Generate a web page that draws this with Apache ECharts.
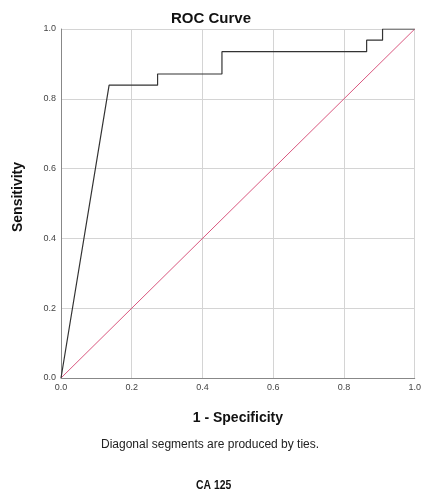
<!DOCTYPE html>
<html>
<head>
<meta charset="utf-8">
<script src="https://cdn.jsdelivr.net/npm/echarts@6/dist/echarts.min.js"></script>
<style>
  html, body { margin: 0; padding: 0; background: #fff; }
  #chart { width: 424px; height: 495px; }
</style>
</head>
<body>
<div id="chart"></div>
<script>
// ROC curve points for CA 125 (1 - specificity, sensitivity)
const rocX = [0, 0.136, 0.273, 0.273, 0.455, 0.455, 0.864, 0.864, 0.909, 0.909, 1];
const rocY = [0, 0.839, 0.839, 0.871, 0.871, 0.935, 0.935, 0.968, 0.968, 1, 1];
// reference line
const refX = [0, 1];
const refY = [0, 1];

const chart = echarts.init(document.getElementById("chart"));

const option = {
  animation: false,
  title: {
    text: "ROC Curve",
    left: 206,
    textAlign: "center",
    top: 6,
    textStyle: { fontFamily: "Liberation Sans", fontSize: 15, fontWeight: "bold", color: "#111" },
  },
  grid: { left: 61, right: 9, top: 29, bottom: 117 },
  xAxis: {
    type: "value",
    min: 0,
    max: 1,
    interval: 0.2,
    name: "1 - Specificity",
    nameLocation: "middle",
    nameGap: 33,
    nameTextStyle: { fontFamily: "Liberation Sans", fontSize: 14, fontWeight: "bold", color: "#111" },
    axisLine: { lineStyle: { color: "#888", width: 1 } },
    axisTick: { show: false },
    axisLabel: {
      fontFamily: "Liberation Sans",
      fontSize: 9,
      color: "#444",
      margin: 5,
      formatter: (v) => v.toFixed(1),
    },
    splitLine: { show: true, lineStyle: { color: "#d4d4d4", width: 1 } },
  },
  yAxis: {
    type: "value",
    min: 0,
    max: 1,
    interval: 0.2,
    axisLine: { show: true, lineStyle: { color: "#888", width: 1 } },
    axisTick: { show: false },
    axisLabel: {
      fontFamily: "Liberation Sans",
      fontSize: 9,
      color: "#444",
      margin: 5,
      formatter: (v) => v.toFixed(1),
    },
    splitLine: { show: true, lineStyle: { color: "#d4d4d4", width: 1 } },
  },
  series: [
    {
      type: "line",
      data: refX.map((x, i) => [x, refY[i]]),
      symbol: "none",
      lineStyle: { color: "#d9577f", width: 1 },
      z: 2,
    },
    {
      type: "line",
      data: rocX.map((x, i) => [x, rocY[i]]),
      symbol: "none",
      lineStyle: { color: "#333", width: 1.2 },
      z: 3,
    },
  ],
  graphic: [
    {
      type: "text",
      x: 18,
      y: 197,
      rotation: Math.PI / 2,
      style: {
        text: "Sensitivity",
        font: "bold 14px 'Liberation Sans'",
        fill: "#111",
        align: "center",
        verticalAlign: "middle",
      },
    },
    {
      type: "text",
      left: 101,
      top: 439,
      style: {
        text: "Diagonal segments are produced by ties.",
        font: "12px 'Liberation Sans'",
        fill: "#222",
      },
    },
    {
      type: "text",
      x: 196,
      y: 479,
      scaleX: 0.8,
      style: {
        text: "CA 125",
        font: "bold 13px 'Liberation Sans'",
        fill: "#111",
      },
    },
  ],
};

chart.setOption(option);
</script>
</body>
</html>
